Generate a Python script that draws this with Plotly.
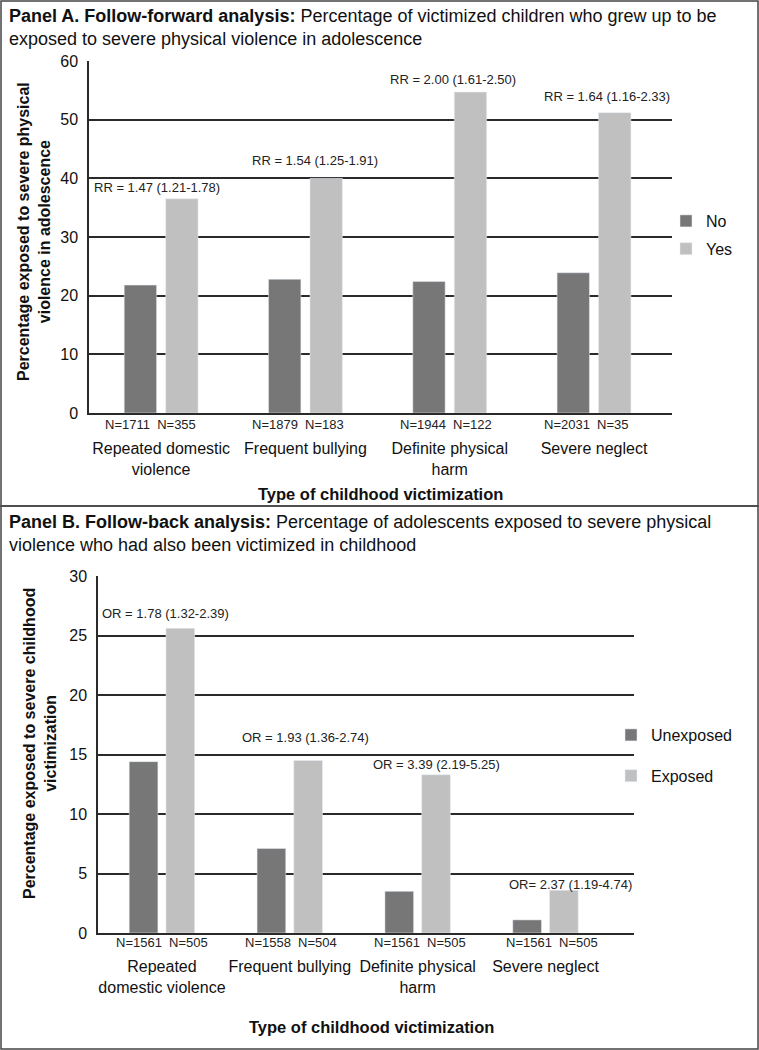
import plotly.graph_objects as go

W, H = 759, 1050

# ---------------- data ----------------
categories_a = ["Repeated domestic<br>violence", "Frequent bullying", "Definite physical<br>harm", "Severe neglect"]
no_values = [21.8, 22.8, 22.4, 23.9]
yes_values = [36.5, 40.0, 54.7, 51.2]
rr_labels = ["RR = 1.47 (1.21-1.78)", "RR = 1.54 (1.25-1.91)", "RR = 2.00 (1.61-2.50)", "RR = 1.64 (1.16-2.33)"]
n_labels_a = ["N=1711\u00a0\u00a0N=355", "N=1879\u00a0\u00a0N=183", "N=1944\u00a0\u00a0N=122", "N=2031\u00a0\u00a0N=35"]

categories_b = ["Repeated<br>domestic violence", "Frequent bullying", "Definite physical<br>harm", "Severe neglect"]
unexposed_values = [14.4, 7.1, 3.5, 1.1]
exposed_values = [25.6, 14.5, 13.3, 3.6]
or_labels = ["OR = 1.78 (1.32-2.39)", "OR = 1.93 (1.36-2.74)", "OR = 3.39 (2.19-5.25)", "OR= 2.37 (1.19-4.74)"]
n_labels_b = ["N=1561\u00a0\u00a0N=505", "N=1558\u00a0\u00a0N=504", "N=1561\u00a0\u00a0N=505", "N=1561\u00a0\u00a0N=505"]

ticks_a = [0, 10, 20, 30, 40, 50, 60]
ticks_b = [0, 5, 10, 15, 20, 25, 30]

# ---------------- style ----------------
DARK = "#777777"
LIGHT = "#c0c0c0"
FONT = "Liberation Sans, Arial, sans-serif"
GRID = "#2a2a2a"

def px_x(p):
    return p / W

def px_y(p):
    return 1 - p / H

# plot areas in pixels
A_L, A_R, A_T, A_B = 89, 672, 61, 413
B_L, B_R, B_T, B_B = 98, 634, 576, 933

ann_shift_a = [(-4, 11), (10, 18), (3, 13), (13, 16)]
ann_shift_b = [(4, 15), (16, 23), (19, 10), (25, 6)]
n_shift_a = [-11, -7, -4, -8]
n_shift_b = [0, 1, 2, 6]

fig = go.Figure()
fig.add_trace(go.Bar(x=categories_a, y=no_values, name="No", marker_color=DARK,
                     xaxis="x", yaxis="y", legend="legend", legendgroup="a1"))
fig.add_trace(go.Bar(x=categories_a, y=yes_values, name="Yes", marker_color=LIGHT,
                     xaxis="x", yaxis="y", legend="legend", legendgroup="a2"))
fig.add_trace(go.Bar(x=categories_b, y=unexposed_values, name="Unexposed", marker_color=DARK,
                     xaxis="x2", yaxis="y2", legend="legend2", legendgroup="b1"))
fig.add_trace(go.Bar(x=categories_b, y=exposed_values, name="Exposed", marker_color=LIGHT,
                     xaxis="x2", yaxis="y2", legend="legend2", legendgroup="b2"))

annotations = []
for i, c in enumerate(categories_a):
    dx, dy = ann_shift_a[i]
    annotations.append(dict(x=c, y=yes_values[i], xref="x", yref="y", text=rr_labels[i],
                            showarrow=False, xshift=dx, yshift=dy, xanchor="center", yanchor="middle",
                            font=dict(size=13, color="#222", family=FONT)))
    annotations.append(dict(x=c, y=0, xref="x", yref="y", text=n_labels_a[i],
                            showarrow=False, xshift=n_shift_a[i], yshift=-11, xanchor="center", yanchor="middle",
                            font=dict(size=13, color="#222", family=FONT)))
for i, c in enumerate(categories_b):
    dx, dy = ann_shift_b[i]
    annotations.append(dict(x=c, y=exposed_values[i], xref="x2", yref="y2", text=or_labels[i],
                            showarrow=False, xshift=dx, yshift=dy, xanchor="center", yanchor="middle",
                            font=dict(size=13, color="#222", family=FONT)))
    annotations.append(dict(x=c, y=0, xref="x2", yref="y2", text=n_labels_b[i],
                            showarrow=False, xshift=n_shift_b[i], yshift=-9, xanchor="center", yanchor="middle",
                            font=dict(size=13, color="#222", family=FONT)))

# panel titles
annotations.append(dict(x=px_x(7), y=px_y(4), xref="paper", yref="paper", xanchor="left", yanchor="top",
                        align="left", showarrow=False,
                        text="<b>Panel A. Follow-forward analysis:</b> Percentage of victimized children who grew up to be<br>exposed to severe physical violence in adolescence",
                        font=dict(size=18, color="#111", family=FONT)))
annotations.append(dict(x=px_x(7), y=px_y(510), xref="paper", yref="paper", xanchor="left", yanchor="top",
                        align="left", showarrow=False,
                        text="<b>Panel B. Follow-back analysis:</b> Percentage of adolescents exposed to severe physical<br>violence who had also been victimized in childhood",
                        font=dict(size=18, color="#111", family=FONT)))
# axis titles
annotations.append(dict(x=px_x(380), y=px_y(494), xref="paper", yref="paper", showarrow=False,
                        text="<b>Type of childhood victimization</b>", xanchor="center", yanchor="middle",
                        font=dict(size=16.5, color="#111", family=FONT)))
annotations.append(dict(x=px_x(371), y=px_y(1027), xref="paper", yref="paper", showarrow=False,
                        text="<b>Type of childhood victimization</b>", xanchor="center", yanchor="middle",
                        font=dict(size=16.5, color="#111", family=FONT)))
annotations.append(dict(x=px_x(34), y=px_y(232), xref="paper", yref="paper", showarrow=False,
                        xanchor="center", yanchor="middle",
                        textangle=-90, text="<b>Percentage exposed to severe physical<br>violence in adolescence</b>",
                        font=dict(size=16, color="#111", family=FONT)))
annotations.append(dict(x=px_x(40), y=px_y(744), xref="paper", yref="paper", showarrow=False,
                        xanchor="center", yanchor="middle",
                        textangle=-90, text="<b>Percentage exposed to severe childhood<br>victimization</b>",
                        font=dict(size=16, color="#111", family=FONT)))

axis_common = dict(showline=True, linecolor=GRID, linewidth=1.5, ticks="", zeroline=False)

fig.update_layout(
    width=W, height=H, margin=dict(l=0, r=0, t=0, b=0),
    paper_bgcolor="white", plot_bgcolor="white",
    barmode="group", bargap=0.425, bargroupgap=0.22,
    font=dict(family=FONT, color="#111"),
    xaxis=dict(domain=[px_x(A_L), px_x(A_R)], anchor="y", tickfont=dict(size=16),
               ticklabelstandoff=20, automargin=False, **axis_common),
    yaxis=dict(domain=[px_y(A_B), px_y(A_T)], anchor="x", range=[0, 60], tickvals=ticks_a,
               showgrid=True, gridcolor=GRID, gridwidth=1.5, tickfont=dict(size=16),
               ticklabelstandoff=6, automargin=False, **axis_common),
    xaxis2=dict(domain=[px_x(B_L), px_x(B_R)], anchor="y2", tickfont=dict(size=16),
                ticklabelstandoff=18, automargin=False, **axis_common),
    yaxis2=dict(domain=[px_y(B_B), px_y(B_T)], anchor="x2", range=[0, 30], tickvals=ticks_b,
                showgrid=True, gridcolor=GRID, gridwidth=1.5, tickfont=dict(size=16),
                ticklabelstandoff=6, automargin=False, **axis_common),
    legend=dict(x=px_x(666), y=px_y(204), xanchor="left", yanchor="top", bgcolor="rgba(0,0,0,0)",
                font=dict(size=16), tracegroupgap=4, itemwidth=30),
    legend2=dict(x=px_x(611), y=px_y(718), xanchor="left", yanchor="top", bgcolor="rgba(0,0,0,0)",
                 font=dict(size=16), tracegroupgap=17, itemwidth=30),
    annotations=annotations,
    shapes=[
        dict(type="rect", xref="paper", yref="paper", x0=px_x(1), x1=px_x(758), y0=px_y(506), y1=px_y(1),
             line=dict(color="#444", width=1.5)),
        dict(type="rect", xref="paper", yref="paper", x0=px_x(1), x1=px_x(758), y0=px_y(1049), y1=px_y(506),
             line=dict(color="#444", width=1.5)),
    ],
)

post = ("document.documentElement.style.margin='0';document.body.style.margin='0';"
        "document.body.style.overflow='hidden';"
        "var d=document.getElementById('{plot_id}');d.style.position='fixed';d.style.top='0';d.style.left='0';")
fig.write_html("out.html", config={"displayModeBar": False}, post_script=post)
